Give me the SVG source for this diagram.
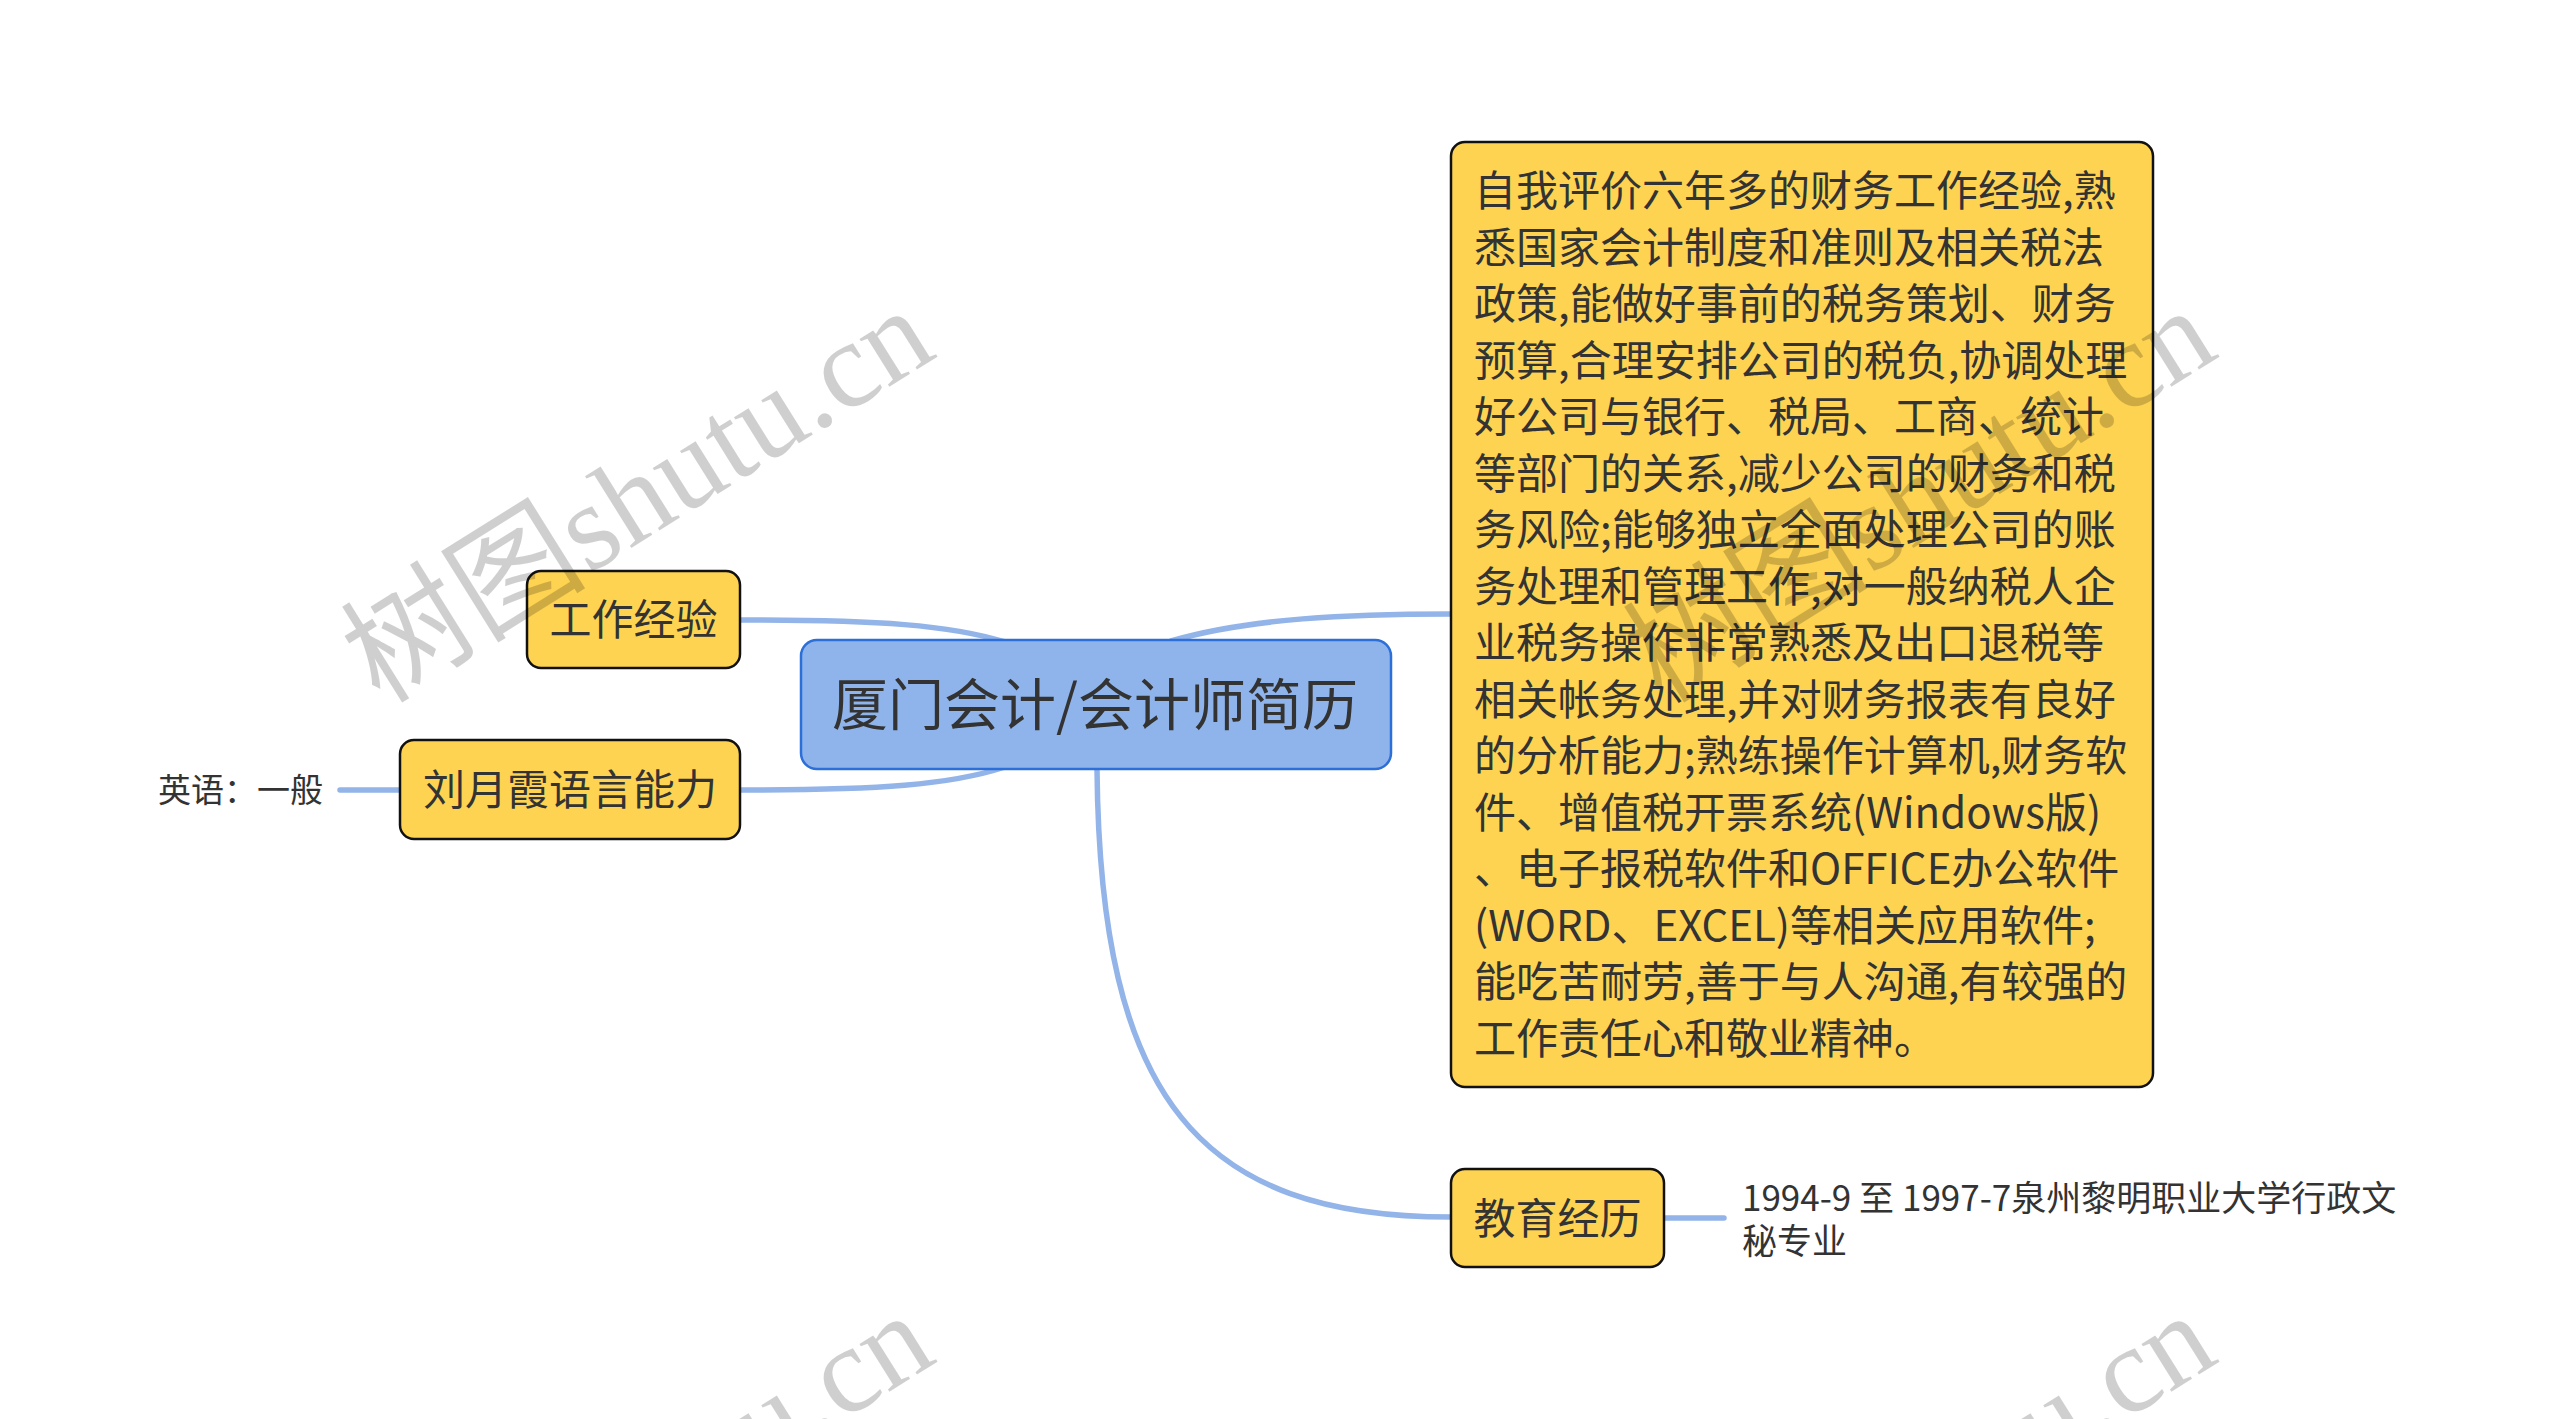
<svg xmlns="http://www.w3.org/2000/svg" width="2560" height="1419" viewBox="0 0 2560 1419">
<style>
text{font-family:"Noto Sans CJK SC","Noto Sans",sans-serif;fill:#333333;}
.sub{fill:#FED352;stroke:#111111;stroke-width:2.5;}
.lbl{font-size:42px;text-anchor:middle;}
.conn{fill:none;stroke:#93B4E8;stroke-width:5.5;stroke-linecap:round;}
.wm{font-family:"Liberation Serif","Noto Sans CJK SC",serif;font-size:123px;fill:#000000;fill-opacity:0.19;}
</style>
<rect x="0" y="0" width="2560" height="1419" fill="#FFFFFF"/>
<g id="connectors">
<path class="conn" d="M740,620 C880,620 950,625 1005,642"/>
<path class="conn" d="M740,790 C880,790 950,785 1005,767"/>
<path class="conn" d="M1171,641 C1250,618 1350,614 1451,614"/>
<path class="conn" d="M1097,769 C1100,1100 1200,1217 1451,1217"/>
<path class="conn" d="M1664,1218 L1724,1218"/>
<path class="conn" d="M340,790 L400,790"/>
</g>
<g id="root">
<rect x="801" y="640" width="590" height="129" rx="16" fill="#8FB4EB" stroke="#2C6FD8" stroke-width="2.5"/>
<text x="1095" y="725" style="font-size:56px;text-anchor:middle;">厦门会计/会计师简历</text>
</g>
<g id="work">
<rect class="sub" x="527" y="571" width="213" height="97" rx="14"/>
<text class="lbl" x="633.5" y="635">工作经验</text>
</g>
<g id="lang">
<rect class="sub" x="400" y="740" width="340" height="99" rx="14"/>
<text class="lbl" x="570" y="805">刘月霞语言能力</text>
</g>
<g id="lang-detail">
<text x="158" y="802" style="font-size:33px;">英语：一般</text>
</g>
<g id="edu">
<rect class="sub" x="1451" y="1169" width="213" height="98" rx="14"/>
<text class="lbl" x="1557.5" y="1234">教育经历</text>
</g>
<g id="edu-detail">
<text style="font-size:35px;"><tspan x="1742" y="1211">1994-9 至 1997-7泉州黎明职业大学行政文</tspan><tspan x="1742" y="1254">秘专业</tspan></text>
</g>
<g id="summary">
<rect class="sub" x="1451" y="142" width="702" height="945" rx="14"/>
<text style="font-size:42px;">
<tspan x="1474" y="206">自我评价六年多的财务工作经验,熟</tspan>
<tspan x="1474" y="262.5">悉国家会计制度和准则及相关税法</tspan>
<tspan x="1474" y="319">政策,能做好事前的税务策划、财务</tspan>
<tspan x="1474" y="375.5">预算,合理安排公司的税负,协调处理</tspan>
<tspan x="1474" y="432">好公司与银行、税局、工商、统计</tspan>
<tspan x="1474" y="488.5">等部门的关系,减少公司的财务和税</tspan>
<tspan x="1474" y="545">务风险;能够独立全面处理公司的账</tspan>
<tspan x="1474" y="601.5">务处理和管理工作,对一般纳税人企</tspan>
<tspan x="1474" y="658">业税务操作非常熟悉及出口退税等</tspan>
<tspan x="1474" y="714.5">相关帐务处理,并对财务报表有良好</tspan>
<tspan x="1474" y="771">的分析能力;熟练操作计算机,财务软</tspan>
<tspan x="1474" y="827.5">件、增值税开票系统(Windows版)</tspan>
<tspan x="1474" y="884">、电子报税软件和OFFICE办公软件</tspan>
<tspan x="1474" y="940.5">(WORD、EXCEL)等相关应用软件;</tspan>
<tspan x="1474" y="997">能吃苦耐劳,善于与人沟通,有较强的</tspan>
<tspan x="1474" y="1053.5">工作责任心和敬业精神。</tspan>
</text>
</g>
<g id="watermarks">
<text class="wm" transform="translate(380,705) rotate(-32)">树图shutu.cn</text>
<text class="wm" transform="translate(1662,705) rotate(-32)">树图shutu.cn</text>
<text class="wm" transform="translate(380,1710) rotate(-32)">树图shutu.cn</text>
<text class="wm" transform="translate(1662,1710) rotate(-32)">树图shutu.cn</text>
</g>
</svg>
